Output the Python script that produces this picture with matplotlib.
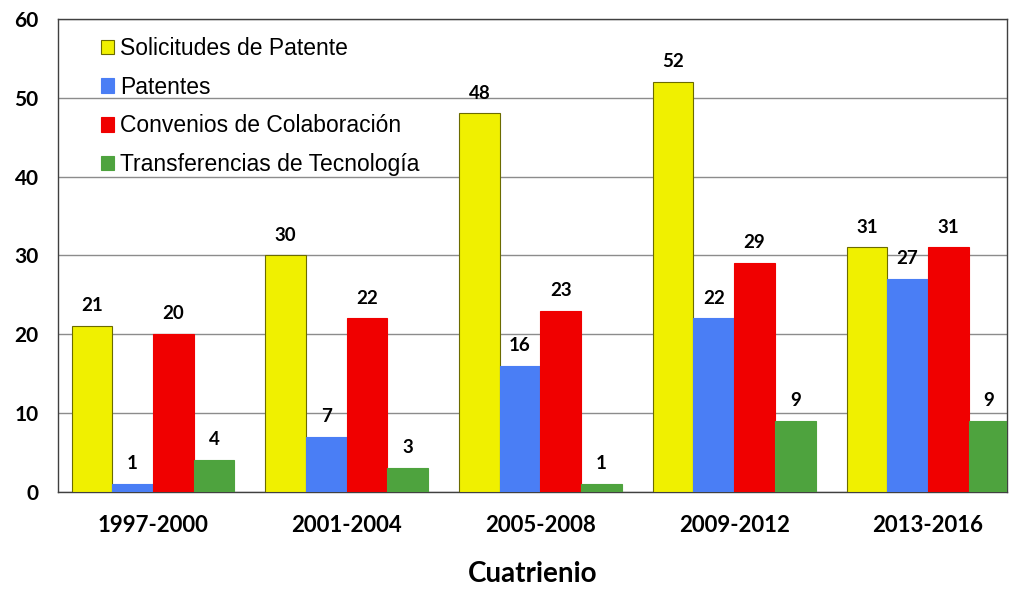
import numpy as np
import matplotlib.pyplot as plt

cuatrienios = ['1997-2000', '2001-2004', '2005-2008', '2009-2012', '2013-2016']
solicitudes = [21, 30, 48, 52, 31]
patentes = [1, 7, 16, 22, 27]
convenios = [20, 22, 23, 29, 31]
transferencias = [4, 3, 1, 9, 9]

series = [
    ('Solicitudes de Patente', solicitudes, '#f0f000', '#6b6b00'),
    ('Patentes', patentes, '#4a7ef5', '#4a7ef5'),
    ('Convenios de Colaboración', convenios, '#f00000', '#f00000'),
    ('Transferencias de Tecnología', transferencias, '#4ea33e', '#4ea33e'),
]

fig = plt.figure(figsize=(10.1, 5.89), dpi=100)
ax = fig.add_axes([0.0574, 0.165, 0.94, 0.803])

x = np.arange(len(cuatrienios))
w = 0.21
for i, (nombre, vals, color, borde) in enumerate(series):
    pos = x + (i - 1.5) * w
    ax.bar(pos, vals, w, color=color, edgecolor=borde, linewidth=0.8,
           label=nombre, zorder=3)
    for px, v in zip(pos, vals):
        ax.text(px, v + 1.5, str(v), ha='center', va='bottom',
                fontsize=13.5, fontweight='bold', family='Lato', zorder=4)

ax.set_xlim(-0.49, 4.41)
ax.set_ylim(0, 60)
ax.set_yticks(range(0, 61, 10))
ax.set_xticks(x)
ax.set_xticklabels(cuatrienios)
ax.tick_params(length=0)
ax.tick_params(axis='x', pad=17)
ax.tick_params(axis='y', pad=14)
for lab in ax.get_xticklabels():
    lab.set_fontsize(16)
    lab.set_fontweight('bold')
    lab.set_family('Lato')
for lab in ax.get_yticklabels():
    lab.set_fontsize(15)
    lab.set_fontweight('bold')
    lab.set_family('Lato')
ax.yaxis.grid(True, color='#8c8c8c', linewidth=1, zorder=0)
for s in ax.spines.values():
    s.set_color('#404040')
    s.set_linewidth(1)

ax.set_xlabel('Cuatrienio', fontsize=20, fontweight='bold', family='Lato', labelpad=18)

ax.legend(loc='upper left', bbox_to_anchor=(0.028, 0.995), frameon=False,
          prop={'family': 'Liberation Sans', 'size': 16.5},
          handlelength=0.6, handleheight=0.6, handletextpad=0.25,
          labelspacing=0.68, borderaxespad=0.3)

fig.savefig('out.png', dpi=100)
